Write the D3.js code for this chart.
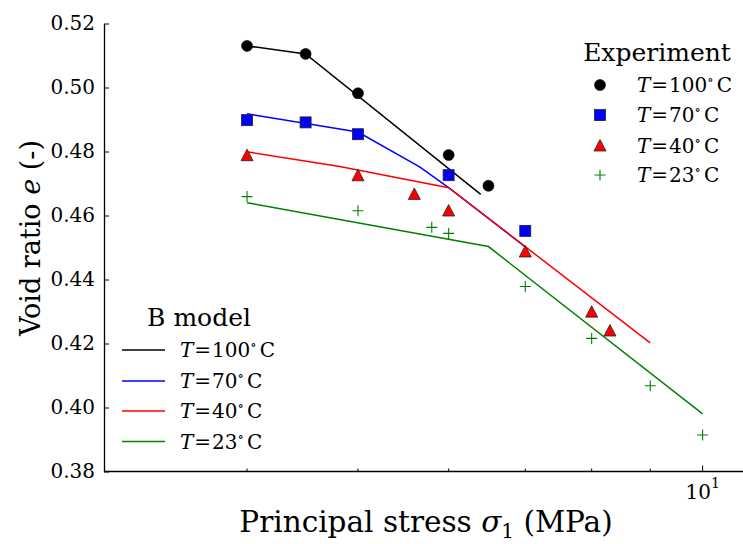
<!DOCTYPE html>
<html><head><meta charset="utf-8">
<script src="https://cdn.jsdelivr.net/npm/d3@7/dist/d3.min.js"></script>
<style>
body{margin:0;background:#fff;}
text{font-family:"DejaVu Serif",serif;fill:#000;}
</style></head>
<body><svg id="c" width="743" height="544"></svg>
<script>
// ---- data ----
const seriesLabels = ["100", "70", "40", "23"];
const seriesColors = ["#000000", "#0000ff", "#ff0000", "#008000"];
// Experiment points [stress MPa, void ratio]
const exp100 = [[4,0.5130],[4.5,0.5105],[5,0.4982],[6,0.4789],[6.5,0.4693]];
const exp70  = [[4,0.4898],[4.5,0.4891],[5,0.4854],[6,0.4726],[7,0.4552]];
const exp40  = [[4,0.4787],[5,0.4724],[5.6,0.4666],[6,0.4614],[7,0.4486],[8,0.4298],[8.3,0.4239]];
const exp23  = [[4,0.4659],[5,0.4615],[5.8,0.4563],[6,0.4544],[7,0.4378],[8,0.4216],[9,0.4068],[10,0.3914]];
// B model lines
const mod100 = [[4,0.5130],[4.5,0.5105],[6.4,0.4666]];
const mod70  = [[4,0.4918],[5,0.4861],[5.66,0.4752],[6,0.4687],[7,0.4502]];
const mod40  = [[4,0.4799],[4.82,0.4753],[6,0.4687],[9,0.4202]];
const mod23  = [[4,0.4640],[6.5,0.4503],[10,0.3980]];
const yTicks = [0.38,0.40,0.42,0.44,0.46,0.48,0.50,0.52];
const xMinorTicks = [4,5,6,7,8,9];

const svg = d3.select("#c");
const x = d3.scaleLog().domain([3,11]).range([104,750]);
const y = d3.scaleLinear().domain([0.38,0.52]).range([471.5,23.5]);

const exps = [exp100, exp70, exp40, exp23];
const mods = [mod100, mod70, mod40, mod23];
const markers = ["circle","square","triangle","plus"];

// axes
const gy = svg.append("g").attr("transform","translate(104,0)")
  .call(d3.axisLeft(y).tickValues(yTicks).tickFormat(d3.format(".2f")).tickSizeInner(-5).tickSizeOuter(0).tickPadding(9));
gy.select(".domain").attr("stroke","#000").attr("stroke-width",1.3);
gy.selectAll(".tick line").attr("stroke","#000").attr("stroke-width",1);
gy.selectAll(".tick text").style("font-size","20px").style("font-family","DejaVu Serif");

const gx = svg.append("g").attr("transform","translate(0,471.5)");
gx.append("line").attr("x1",104).attr("x2",750).attr("stroke","#000").attr("stroke-width",1.3);
gx.selectAll(".minor").data(xMinorTicks).join("line").attr("class","minor")
  .attr("x1",d=>x(d)).attr("x2",d=>x(d)).attr("y1",0).attr("y2",-3).attr("stroke","#000").attr("stroke-width",1);
gx.append("line").attr("x1",x(10)).attr("x2",x(10)).attr("y1",0).attr("y2",-6).attr("stroke","#000").attr("stroke-width",1);
const t10 = gx.append("text").attr("x",x(10)).attr("y",27).attr("text-anchor","middle").style("font-size","20px");
t10.append("tspan").text("10");
t10.append("tspan").attr("dy",-11).style("font-size","14px").text("1");

// model lines
const line = d3.line().x(d=>x(d[0])).y(d=>y(d[1]));
mods.forEach((m,i)=>{
  svg.append("path").datum(m).attr("d",line).attr("fill","none")
    .attr("stroke",seriesColors[i]).attr("stroke-width",1.5);
});

function drawMarker(g, type, cx, cy, color){
  if(type==="circle") g.append("circle").attr("cx",cx).attr("cy",cy).attr("r",5.5).attr("fill",color).attr("stroke","#000").attr("stroke-width",0.6);
  else if(type==="square") g.append("rect").attr("x",cx-5.5).attr("y",cy-5.5).attr("width",11).attr("height",11).attr("fill",color).attr("stroke","#222").attr("stroke-width",0.8);
  else if(type==="triangle") g.append("path").attr("d",`M${cx},${cy-6.5}L${cx+6},${cy+5}L${cx-6},${cy+5}Z`).attr("fill",color).attr("stroke","#222").attr("stroke-width",0.8);
  else { g.append("path").attr("d",`M${cx-5.5},${cy}H${cx+5.5}M${cx},${cy-5.5}V${cy+5.5}`).attr("stroke",color).attr("stroke-width",1.1).attr("fill","none"); }
}
const gm = svg.append("g");
exps.forEach((e,i)=>{
  e.forEach(d=>drawMarker(gm, markers[i], x(d[0]), y(d[1]), seriesColors[i]));
});

function mathLabel(g, xx, yy, t){
  const tx = g.append("text").attr("x",xx).attr("y",yy).style("font-size","20px");
  tx.append("tspan").style("font-style","italic").text("T");
  tx.append("tspan").attr("dx",1).text("=");
  tx.append("tspan").attr("dx",1).text(t);
  tx.append("tspan").attr("dy",-8).style("font-size","13px").text("∘");
  tx.append("tspan").attr("dy",8).attr("dx",3).text("C");
}

// Experiment legend
const le = svg.append("g");
le.append("text").attr("x",657).attr("y",61).attr("text-anchor","middle").style("font-size","25px").text("Experiment");
[85,115,146,175].forEach((yy,i)=>{
  drawMarker(le, markers[i], 600, yy, seriesColors[i]);
  mathLabel(le, 637, yy+7, seriesLabels[i]);
});

// B model legend
const lb = svg.append("g");
lb.append("text").attr("x",199).attr("y",326).attr("text-anchor","middle").style("font-size","25px").text("B model");
[350,381,411,441.5].forEach((yy,i)=>{
  lb.append("line").attr("x1",122).attr("x2",165).attr("y1",yy).attr("y2",yy).attr("stroke",seriesColors[i]).attr("stroke-width",1.5);
  mathLabel(lb, 180, yy+7, seriesLabels[i]);
});

// axis titles
const xl = svg.append("text").attr("x",426).attr("y",532).attr("text-anchor","middle").style("font-size","29.5px");
xl.append("tspan").text("Principal stress ");
xl.append("tspan").style("font-style","italic").text("σ");
xl.append("tspan").attr("dy",6).style("font-size","20px").text("1");
xl.append("tspan").attr("dy",-6).text(" (MPa)");

const yl = svg.append("text").attr("transform","translate(40,238) rotate(-90)").attr("text-anchor","middle").style("font-size","27px");
yl.append("tspan").text("Void ratio ");
yl.append("tspan").style("font-style","italic").text("e");
yl.append("tspan").text(" (-)");
</script></body></html>
